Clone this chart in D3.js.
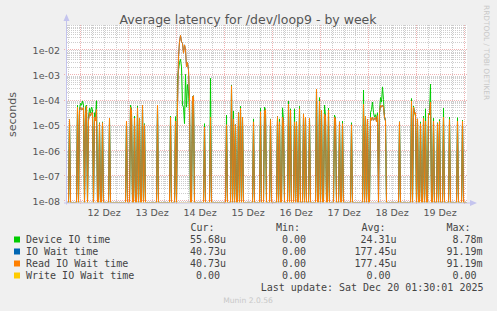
<!DOCTYPE html>
<html>
<head>
<meta charset="utf-8">
<script src="https://cdn.jsdelivr.net/npm/d3@7"></script>
<style>
  body { margin: 0; background: #f0f0f0; }
  svg { display: block; font-family: "DejaVu Sans", sans-serif; }
  .mono { font-family: "DejaVu Sans Mono", monospace; font-size: 10px; fill: #444; white-space: pre; }
</style>
</head>
<body>
<svg id="chart" width="497" height="311"></svg>
<script>
// 30 minute samples, only the non-zero ones are listed (everything else is 0)
const slots = [2, 10, 12, 13, 14, 15, 16, 18, 19, 21, 22, 23, 24, 25, 27, 28, 29, 32, 35, 42,
  59, 63, 64, 67, 70, 72, 75, 77, 90, 103, 108, 110, 111, 112, 113, 114, 115, 116, 117, 118,
  119, 120, 121, 122, 125, 126, 137, 143, 159, 164, 166, 168, 171, 173, 175, 186, 193, 197, 198, 203,
  210, 212, 215, 216, 221, 223, 227, 229, 232, 236, 238, 242, 249, 252, 254, 257, 258, 261, 267, 268,
  272, 275, 284, 296, 298, 300, 303, 304, 305, 306, 307, 308, 309, 310, 311, 312, 313, 314, 315, 316,
  317, 318, 332, 344, 346, 347, 348, 350, 353, 356, 358, 361, 362, 363, 366, 370, 372, 376, 382, 390, 395];

const deviceIO = [1.5e-5, 6e-5, 4e-5, 7e-5, 6e-5, 8.7e-5, 6e-5, 5e-5, 6e-5, 2e-5, 4.5e-5, 3e-5, 5e-5, 4e-5, 3e-5, 2e-5, 9e-5, 1.2e-5, 1.3e-5, 1.8e-5,
  1.4e-5, 6e-5, 4e-5, 2.2e-5, 5.6e-5, 1.8e-5, 5.6e-5, 1.1e-5, 6e-5, 2.2e-5, 2.1e-5, 7e-4, 1.5e-3, 3e-3, 4e-3, 2e-3, 6e-5, 5e-5, 1.1e-5, 1e-3,
  5e-5, 4e-4, 2e-4, 3e-5, 1.3e-4, 1.4e-4, 1.1e-5, 7e-4, 2.4e-5, 3.7e-4, 3.5e-5, 1e-5, 3e-5, 5.4e-5, 2e-5, 1.7e-5, 4.6e-5, 5e-5, 4e-5, 1.7e-5,
  2.1e-5, 1.7e-5, 4.7e-5, 1.5e-5, 8.7e-5, 4.3e-5, 4.3e-5, 1.3e-5, 5.4e-5, 2.5e-5, 2e-5, 1.8e-5, 2.6e-4, 1.2e-4, 3.8e-5, 6e-5, 2.2e-5, 4.6e-5, 2.4e-5, 1.8e-5,
  1.3e-5, 1.4e-5, 1.2e-5, 2.4e-4, 2.2e-5, 1.6e-5, 3e-5, 4e-5, 8e-5, 3e-5, 2e-5, 2.5e-5, 1.5e-5, 3e-5, 6e-8, 3e-5, 1.2e-4, 8e-5, 3.2e-4, 1e-4,
  2e-5, 1.5e-5, 1.3e-5, 1.1e-4, 5.5e-5, 3e-5, 2.2e-5, 1.7e-5, 1.3e-5, 2.2e-5, 4.3e-5, 2.7e-5, 2.5e-5, 4.1e-4, 1.8e-5, 1.2e-5, 1.6e-5, 4.6e-5, 2e-5, 1.9e-5, 1.5e-5];

const readWait = [1.6e-5, 5e-5, 3.5e-5, 5e-5, 4e-5, 4e-5, 5e-5, 3e-5, 5.5e-5, 1.5e-5, 3e-5, 2.2e-5, 3e-5, 3e-5, 2e-5, 1.4e-5, 4e-5, 1.1e-5, 1.2e-5, 1.8e-5,
  1.4e-5, 5e-5, 3.5e-5, 1.8e-5, 4.7e-5, 1.8e-5, 6e-5, 1e-5, 6e-5, 2e-5, 1.4e-5, 5e-5, 5e-3, 0.02, 0.036, 0.02, 0.017, 7e-3, 0.015, 0.01,
  2e-3, 3e-3, 1.5e-3, 1e-4, 1.3e-4, 1.4e-4, 8e-6, 2e-5, 1e-5, 3.5e-4, 1.7e-5, 1e-5, 3e-5, 4.5e-5, 2e-5, 1.3e-5, 3.3e-5, 3.5e-5, 4e-5, 1.6e-5,
  2.1e-5, 1.3e-5, 2e-5, 1.2e-5, 6.6e-5, 3.8e-5, 1.3e-5, 1.3e-5, 4.3e-5, 2.7e-5, 2e-5, 1.8e-5, 2.6e-4, 8.7e-5, 3.8e-5, 2.7e-5, 2.2e-5, 3.8e-5, 2e-5, 1.7e-5,
  1.3e-5, 1.1e-5, 1e-5, 6.6e-5, 2.2e-5, 1.6e-5, 2e-5, 1.5e-5, 2e-5, 1.5e-5, 1.7e-5, 2e-5, 1.3e-5, 2.3e-5, 0, 3e-5, 6e-5, 5e-5, 6e-5, 5e-5,
  2e-5, 1.4e-5, 1.3e-5, 8.7e-5, 5e-5, 2.7e-5, 3e-5, 1.7e-5, 1.1e-5, 1.8e-5, 1.4e-5, 2.7e-5, 3e-5, 8e-5, 1.4e-5, 1.1e-5, 1.4e-5, 2e-5, 1.6e-5, 1.4e-5, 1.4e-5];

// IO Wait equals Read IO Wait over this week, Write IO Wait stays at 0
const ioWait = readWait;
const writeWait = slots.map(() => 0);

const seriesNames = ["Device IO time", "IO Wait time", "Read IO Wait time", "Write IO Wait time"];
const seriesColors = ["#00cc00", "#0066b3", "#ff8000", "#ffcc00"];
const legendCur = ["55.68u", "40.73u", "40.73u", "0.00"];
const legendMin = ["0.00", "0.00", "0.00", "0.00"];
const legendAvg = ["24.31u", "177.45u", "177.45u", "0.00"];
const legendMax = ["8.78m", "91.19m", "91.19m", "0.00"];

const yTicks = [1e-8, 1e-7, 1e-6, 1e-5, 1e-4, 1e-3, 1e-2];
const dayLabels = ["12 Dez", "13 Dez", "14 Dez", "15 Dez", "16 Dez", "17 Dez", "18 Dez", "19 Dez"];

const nSlots = 400;
const step = 30 * 60 * 1000;
const tStart = Date.UTC(2025, 11, 11, 17, 45);
const tEnd = tStart + nSlots * step;

const plotLeft = 67, plotRight = 467, plotTop = 25.2, plotBottom = 202.5;

const svg = d3.select("#chart");

const x = d3.scaleUtc().domain([tStart, tEnd]).range([plotLeft, plotRight]);
const y = d3.scaleLog().domain([8e-9, 0.0912]).range([plotBottom, plotTop]).clamp(true);

// expand a sparse list into the full 400 sample series
function fullSeries(vals) {
  const out = new Array(nSlots).fill(0);
  slots.forEach((s, i) => { out[s] = vals[i]; });
  return out;
}
const series = [deviceIO, ioWait, readWait, writeWait].map(fullSeries);

// plot background
svg.append("rect").attr("x", plotLeft).attr("y", plotTop)
  .attr("width", plotRight - plotLeft).attr("height", plotBottom - plotTop).attr("fill", "#fff");

// grid
const minorColor = "#cdcdcd", majorColor = "#efb2b2";
const grid = svg.append("g").attr("shape-rendering", "crispEdges");
const minorY = [];
for (let e = -9; e <= -2; e++) for (let m = 2; m <= 9; m++) {
  const v = m * Math.pow(10, e);
  if (v > 8e-9 && v < 0.0912) minorY.push(v);
}
grid.selectAll("line.ym").data(minorY).enter().append("line")
  .attr("x1", plotLeft).attr("x2", plotRight)
  .attr("y1", d => Math.round(y(d)) + 0.5).attr("y2", d => Math.round(y(d)) + 0.5)
  .attr("stroke", minorColor).attr("stroke-dasharray", "1,1");

const sixHours = d3.utcHour.every(6).range(new Date(tStart), new Date(tEnd)).filter(d => d.getUTCHours() !== 0);
grid.selectAll("line.xm").data(sixHours).enter().append("line")
  .attr("x1", d => Math.round(x(d)) + 0.5).attr("x2", d => Math.round(x(d)) + 0.5)
  .attr("y1", plotTop).attr("y2", plotBottom)
  .attr("stroke", minorColor).attr("stroke-dasharray", "1,1");

const midnights = d3.utcDay.range(new Date(tStart), new Date(tEnd));
grid.selectAll("line.xM").data(midnights).enter().append("line")
  .attr("x1", d => Math.round(x(d)) + 0.5).attr("x2", d => Math.round(x(d)) + 0.5)
  .attr("y1", plotTop).attr("y2", plotBottom + 3)
  .attr("stroke", majorColor).attr("stroke-dasharray", "1,1");
grid.selectAll("line.yM").data(yTicks).enter().append("line")
  .attr("x1", plotLeft - 3).attr("x2", plotRight)
  .attr("y1", d => Math.round(y(d)) + 0.5).attr("y2", d => Math.round(y(d)) + 0.5)
  .attr("stroke", majorColor).attr("stroke-dasharray", "1,1");

// data lines
svg.append("clipPath").attr("id", "clip").append("rect")
  .attr("x", plotLeft).attr("y", plotTop - 1)
  .attr("width", plotRight - plotLeft).attr("height", plotBottom - plotTop + 1);
const line = d3.line()
  .x((d, i) => x(tStart + i * step) + 0.5)
  .y(d => d > 0 ? y(d) : plotBottom);
svg.append("g").selectAll("path").data(series).enter().append("path")
  .attr("d", line)
  .attr("clip-path", "url(#clip)")
  .attr("fill", "none")
  .attr("stroke", (d, i) => seriesColors[i])
  .attr("stroke-width", 1);

// axes lines with arrows
const axisColor = "#c4c4ee";
svg.append("line").attr("x1", plotLeft - 0.5).attr("x2", plotLeft - 0.5)
  .attr("y1", plotBottom + 2).attr("y2", 20).attr("stroke", axisColor);
svg.append("path").attr("d", `M${plotLeft - 3.5},21 L${plotLeft - 0.5},14 L${plotLeft + 2.5},21 Z`).attr("fill", axisColor);
svg.append("line").attr("x1", plotLeft - 3).attr("x2", 471)
  .attr("y1", plotBottom + 0.5).attr("y2", plotBottom + 0.5).attr("stroke", axisColor);
svg.append("path").attr("d", `M470,${plotBottom - 2.5} L477,${plotBottom + 0.5} L470,${plotBottom + 3.5} Z`).attr("fill", axisColor);

// tick labels through d3 axes
const fmtExp = d => "1e-" + String(-Math.round(Math.log10(d))).padStart(2, "0");
const yAxis = svg.append("g").attr("transform", `translate(${plotLeft},0)`)
  .call(d3.axisLeft(y).tickValues(yTicks).tickFormat(fmtExp).tickSize(0).tickPadding(7));
yAxis.select(".domain").remove();
yAxis.selectAll("text").attr("dy", "0.45em").attr("fill", "#555")
  .style("font-family", "DejaVu Sans").style("font-size", "9.5px");

const noons = midnights.map(d => d3.utcHour.offset(d, 12)).filter(d => +d < tEnd);
const xAxis = svg.append("g").attr("transform", `translate(0,${plotBottom})`)
  .call(d3.axisBottom(x).tickValues(noons).tickFormat((d, i) => dayLabels[i]).tickSize(0).tickPadding(6.8));
xAxis.select(".domain").remove();
xAxis.selectAll("text").attr("fill", "#555")
  .style("font-family", "DejaVu Sans").style("font-size", "9.5px");

// titles
svg.append("text").attr("x", 248).attr("y", 23.5).attr("text-anchor", "middle")
  .attr("fill", "#555").style("font-size", "12.5px")
  .text("Average latency for /dev/loop9 - by week");
svg.append("text").attr("transform", "translate(15.5,114.5) rotate(-90)").attr("text-anchor", "middle")
  .attr("fill", "#555").style("font-size", "11px").text("seconds");
svg.append("text").attr("transform", "translate(484,5) rotate(90)")
  .attr("fill", "#c8c8c8").style("font-size", "7.4px").text("RRDTOOL / TOBI OETIKER");

// legend
const legend = svg.append("g");
const cols = [
  { head: "Cur:", hx: 190.5, end: 220, vals: legendCur },
  { head: "Min:", hx: 276, end: 306, vals: legendMin },
  { head: "Avg:", hx: 361.5, end: 390.5, vals: legendAvg },
  { head: "Max:", hx: 446.5, end: 476.5, vals: legendMax }
];
cols.forEach(c => {
  legend.append("text").attr("class", "mono").attr("x", c.hx).attr("y", 231).text(c.head);
});
seriesNames.forEach((name, i) => {
  const by = 243 + i * 12;
  legend.append("rect").attr("x", 14).attr("y", by - 6.5).attr("width", 6).attr("height", 6).attr("fill", seriesColors[i]);
  legend.append("text").attr("class", "mono").attr("x", 26).attr("y", by).text(name);
  cols.forEach(c => {
    const v = c.vals[i];
    const hasSuffix = /[a-z]$/i.test(v);
    const num = hasSuffix ? v.slice(0, -1) : v;
    legend.append("text").attr("class", "mono").attr("x", c.end).attr("y", by)
      .attr("text-anchor", "end").text(num);
    if (hasSuffix) legend.append("text").attr("class", "mono").attr("x", c.end).attr("y", by).text(v.slice(-1));
  });
});
legend.append("text").attr("class", "mono").attr("x", 483.5).attr("y", 291).attr("text-anchor", "end")
  .text("Last update: Sat Dec 20 01:30:01 2025");
svg.append("text").attr("x", 248).attr("y", 302.5).attr("text-anchor", "middle")
  .attr("fill", "#c8c8c8").style("font-size", "7.6px").text("Munin 2.0.56");
</script>
</body>
</html>
